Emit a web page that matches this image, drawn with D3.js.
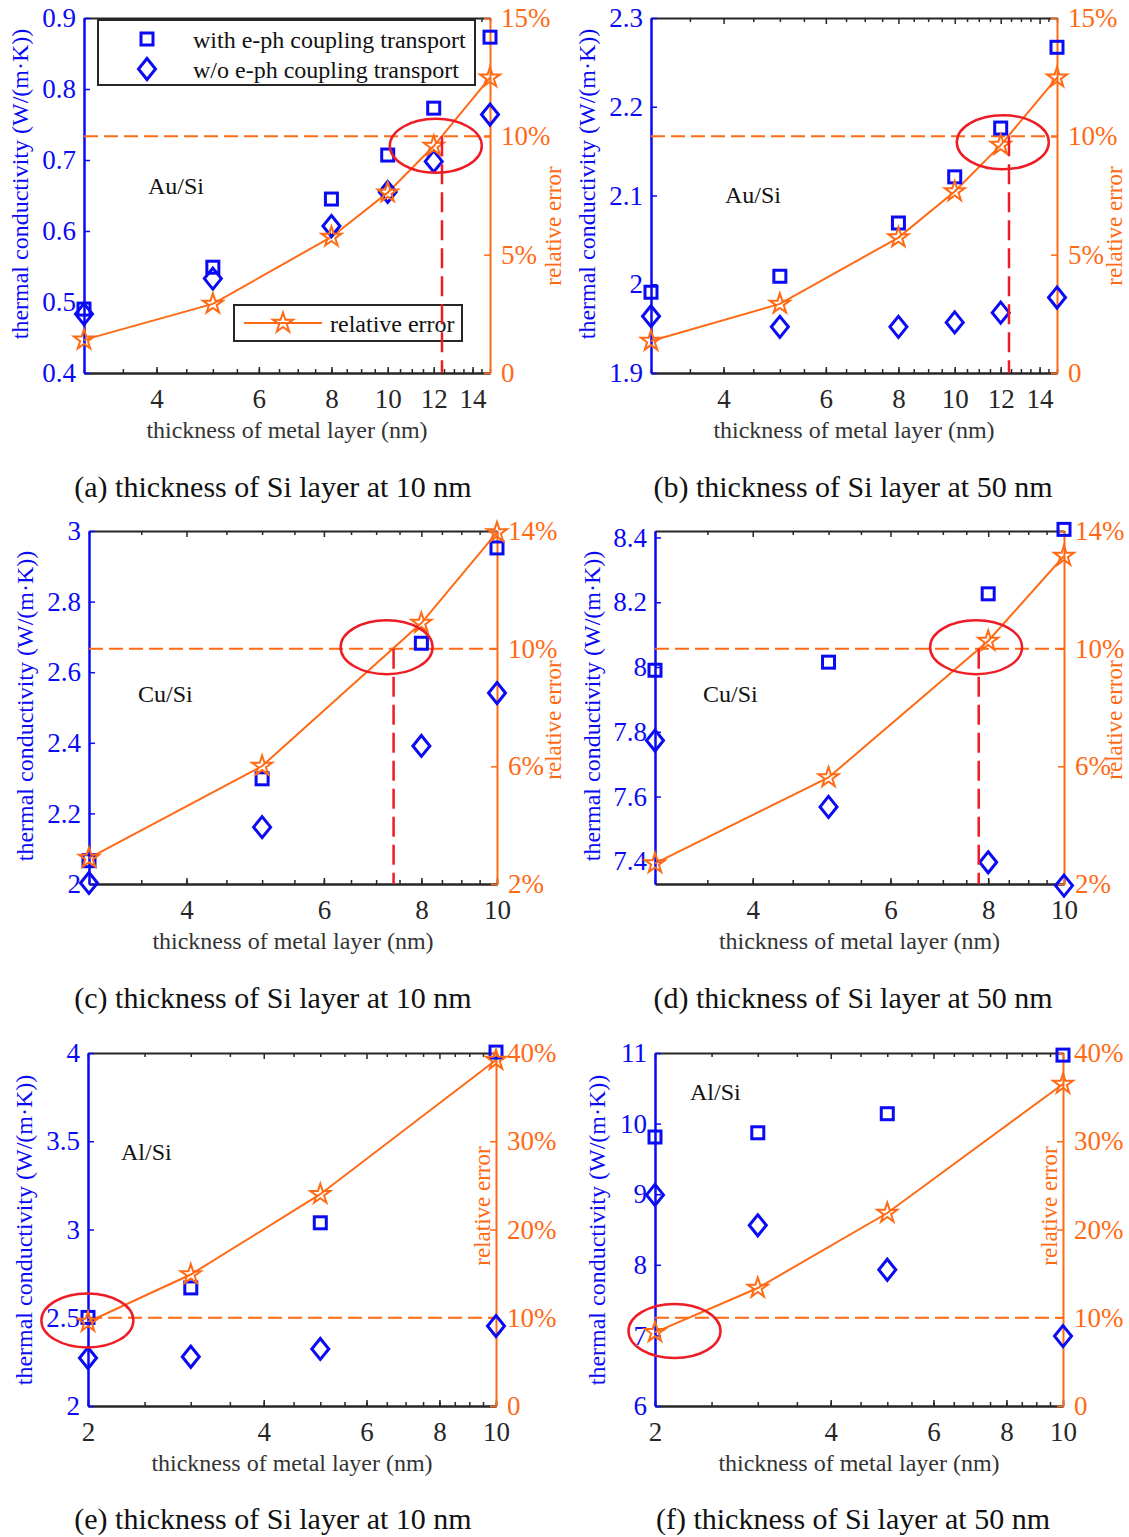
<!DOCTYPE html>
<html>
<head>
<meta charset="utf-8">
<script src="https://cdn.jsdelivr.net/npm/d3@7"></script>
<style>
  body { margin: 0; background: #fff; }
  svg { display: block; font-family: "Liberation Serif", "Times New Roman", serif; }
</style>
</head>
<body>
<svg id="chart" width="1129" height="1537"></svg>
<script>
/* thickness of metal layer (nm) */
const thickAu = [3, 5, 8, 10, 12, 15];
const thickCu = [3, 5, 8, 10];
const thickAl = [2, 3, 5, 10];

/* thermal conductivity W/(m·K): with / without e-ph coupling transport, relative error (%) */
const kWithA    = [0.490, 0.549, 0.645, 0.707, 0.773, 0.873];
const kWithoutA = [0.483, 0.533, 0.607, 0.655, 0.698, 0.764];
const errA      = [1.40, 2.92, 5.75, 7.62, 9.59, 12.48];

const kWithB    = [1.991, 2.009, 2.069, 2.121, 2.176, 2.267];
const kWithoutB = [1.964, 1.952, 1.952, 1.957, 1.968, 1.985];
const errB      = [1.35, 2.92, 5.72, 7.67, 9.63, 12.48];

const kWithC    = [2.066, 2.298, 2.682, 2.952];
const kWithoutC = [2.003, 2.161, 2.391, 2.541];
const errC      = [2.88, 6.01, 10.87, 13.95];

const kWithD    = [7.990, 8.015, 8.226, 8.425];
const kWithoutD = [7.773, 7.568, 7.397, 7.325];
const errD      = [2.70, 5.62, 10.26, 13.15];

const kWithE    = [2.502, 2.669, 3.038, 4.005];
const kWithoutE = [2.272, 2.279, 2.323, 2.453];
const errE      = [9.52, 14.9, 24.0, 39.2];

const kWithF    = [9.81, 9.87, 10.14, 10.97];
const kWithoutF = [8.99, 8.56, 7.93, 6.99];
const errF      = [8.35, 13.37, 21.87, 36.49];

/* tick values */
const xTicksAu = [4, 6, 8, 10, 12, 14];
const xTicksCu = [4, 6, 8, 10];
const xTicksAl = [2, 4, 6, 8, 10];
const yTicksA = [0.4, 0.5, 0.6, 0.7, 0.8, 0.9];
const yTicksB = [1.9, 2.0, 2.1, 2.2, 2.3];
const yTicksC = [2.0, 2.2, 2.4, 2.6, 2.8, 3.0];
const yTicksD = [7.4, 7.6, 7.8, 8.0, 8.2, 8.4];
const yTicksE = [2.0, 2.5, 3.0, 3.5, 4.0];
const yTicksF = [6, 7, 8, 9, 10, 11];
const errTicksAu = [0, 5, 10, 15];
const errTicksCu = [2, 6, 10, 14];
const errTicksAl = [0, 10, 20, 30, 40];

const captions = [
  "(a) thickness of Si layer at 10 nm",
  "(b) thickness of Si layer at 50 nm",
  "(c) thickness of Si layer at 10 nm",
  "(d) thickness of Si layer at 50 nm",
  "(e) thickness of Si layer at 10 nm",
  "(f) thickness of Si layer at 50 nm"
];
const systems = ["Au/Si", "Au/Si", "Cu/Si", "Cu/Si", "Al/Si", "Al/Si"];

/* annotations: circled point (thickness, error %) and 10 % crossing thickness */
const circleAt = [[12.1, 9.6], [12.1, 9.75], [7.22, 10.05], [7.72, 10.05], [1.995, 9.7], [2.16, 8.5]];
const crossAt  = [12.4, 12.4, 7.37, 7.78, null, null];
const threshold = 10;

const BLUE = "#0a0af5", ORANGE = "#ff6a14", RED = "#ee1c25", INK = "#262626";

/* panel layout */
const panels = [
  { box: { l: 84,  t: 18,   r: 490,  b: 373 },  xs: thickAu, kw: kWithA, ko: kWithoutA, err: errA,
    xDomain: [3, 15], xTicks: xTicksAu, yDomain: [0.4, 0.9], yTicks: yTicksA, errDomain: [0, 15], errTicks: errTicksAu,
    sys: [148, 194], yl: [20, 184], el: [553, 226], cap: [273, 497], legend: true },
  { box: { l: 651, t: 18,   r: 1057, b: 373 },  xs: thickAu, kw: kWithB, ko: kWithoutB, err: errB,
    xDomain: [3, 15], xTicks: xTicksAu, yDomain: [1.9, 2.3], yTicks: yTicksB, errDomain: [0, 15], errTicks: errTicksAu,
    sys: [725, 203], yl: [587, 184], el: [1114, 226], cap: [853, 497] },
  { box: { l: 89,  t: 531,  r: 497,  b: 884 },  xs: thickCu, kw: kWithC, ko: kWithoutC, err: errC,
    xDomain: [3, 10], xTicks: xTicksCu, yDomain: [2.0, 3.0], yTicks: yTicksC, errDomain: [2, 14], errTicks: errTicksCu,
    sys: [138, 702], yl: [25, 706], el: [553, 720], cap: [273, 1008] },
  { box: { l: 655, t: 531,  r: 1064, b: 884 },  xs: thickCu, kw: kWithD, ko: kWithoutD, err: errD,
    xDomain: [3, 10], xTicks: xTicksCu, yDomain: [7.33, 8.42], yTicks: yTicksD, errDomain: [2, 14], errTicks: errTicksCu,
    sys: [703, 702], yl: [592, 706], el: [1114, 720], cap: [853, 1008] },
  { box: { l: 88,  t: 1053, r: 496,  b: 1406 }, xs: thickAl, kw: kWithE, ko: kWithoutE, err: errE,
    xDomain: [2, 10], xTicks: xTicksAl, yDomain: [2.0, 4.0], yTicks: yTicksE, errDomain: [0, 40], errTicks: errTicksAl,
    sys: [121, 1160], yl: [24, 1230], el: [482, 1206], cap: [273, 1529] },
  { box: { l: 655, t: 1053, r: 1063, b: 1406 }, xs: thickAl, kw: kWithF, ko: kWithoutF, err: errF,
    xDomain: [2, 10], xTicks: xTicksAl, yDomain: [6, 11], yTicks: yTicksF, errDomain: [0, 40], errTicks: errTicksAl,
    sys: [690, 1100], yl: [597, 1230], el: [1049, 1206], cap: [853, 1529] }
];

const svg = d3.select("#chart");
const star = d3.symbol(d3.symbolStar, 125);

function square(g, cx, cy) {
  g.append("rect").attr("x", cx - 6).attr("y", cy - 6).attr("width", 12).attr("height", 12)
    .attr("fill", "none").attr("stroke", BLUE).attr("stroke-width", 3);
}
function diamond(g, cx, cy) {
  g.append("path").attr("d", `M${cx},${cy - 10.5}L${cx + 8.5},${cy}L${cx},${cy + 10.5}L${cx - 8.5},${cy}Z`)
    .attr("fill", "none").attr("stroke", BLUE).attr("stroke-width", 3);
}
function pentagram(g, cx, cy) {
  g.append("path").attr("d", star).attr("transform", `translate(${cx},${cy})`)
    .attr("fill", "none").attr("stroke", ORANGE).attr("stroke-width", 2);
}

function styleAxis(a, color, size) {
  a.attr("font-family", null).attr("font-size", null);
  a.select(".domain").attr("stroke", color).attr("stroke-width", 2);
  a.selectAll(".tick line").attr("stroke", color).attr("stroke-width", 1.5);
  a.selectAll(".tick text").attr("fill", color).style("font-size", size + "px");
}

function drawPanel(p, i) {
  const b = p.box;
  const g = svg.append("g");
  const x = d3.scaleLog().domain(p.xDomain).range([b.l, b.r]);
  const y = d3.scaleLinear().domain(p.yDomain).range([b.b, b.t]);
  const ye = d3.scaleLinear().domain(p.errDomain).range([b.b, b.t]);
  const minor = d3.range(p.xDomain[0], p.xDomain[1] + 0.01, 0.5);
  const fmtY = d => String(+d.toFixed(2));
  const fmtE = d => d === 0 ? "0" : d + "%";

  /* top and bottom (log) axes, ticks pointing inward */
  const bot = g.append("g").attr("transform", `translate(0,${b.b})`)
    .call(d3.axisBottom(x).tickValues(p.xTicks).tickFormat(d3.format("d")).tickSizeInner(-6).tickSizeOuter(0).tickPadding(16));
  styleAxis(bot, INK, 27);
  const botMinor = g.append("g").attr("transform", `translate(0,${b.b})`)
    .call(d3.axisBottom(x).tickValues(minor).tickFormat("").tickSizeInner(-4).tickSizeOuter(0));
  styleAxis(botMinor, INK, 27);
  const top = g.append("g").attr("transform", `translate(0,${b.t})`)
    .call(d3.axisTop(x).tickValues(minor).tickFormat("").tickSizeInner(-4).tickSizeOuter(0));
  styleAxis(top, INK, 27);
  top.selectAll(".tick").filter(d => p.xTicks.includes(d)).select("line").attr("y2", 6);

  /* left (conductivity) and right (relative error) axes */
  const left = g.append("g").attr("transform", `translate(${b.l},0)`)
    .call(d3.axisLeft(y).tickValues(p.yTicks).tickFormat(fmtY).tickSizeInner(-6).tickSizeOuter(0).tickPadding(8));
  styleAxis(left, BLUE, 27);
  left.select(".domain").attr("stroke-width", 2.5);
  const right = g.append("g").attr("transform", `translate(${b.r},0)`)
    .call(d3.axisRight(ye).tickValues(p.errTicks).tickFormat(fmtE).tickSizeInner(-6).tickSizeOuter(0).tickPadding(11));
  styleAxis(right, ORANGE, 27);

  /* 10 % threshold */
  g.append("line").attr("x1", b.l).attr("x2", b.r).attr("y1", ye(threshold)).attr("y2", ye(threshold))
    .attr("stroke", ORANGE).attr("stroke-width", 2).attr("stroke-dasharray", "14,6");

  /* relative error line */
  const pts = p.xs.map((t, j) => [t, p.err[j]]);
  g.append("path").datum(pts)
    .attr("d", d3.line().x(d => x(d[0])).y(d => ye(d[1])))
    .attr("fill", "none").attr("stroke", ORANGE).attr("stroke-width", 2);

  p.xs.forEach((t, j) => {
    square(g, x(t), y(p.kw[j]));
    diamond(g, x(t), y(p.ko[j]));
  });
  pts.forEach(d => pentagram(g, x(d[0]), ye(d[1])));

  /* text */
  g.append("text").attr("x", p.sys[0]).attr("y", p.sys[1]).attr("fill", "#111").style("font-size", "24px").text(systems[i]);
  g.append("text").attr("transform", `translate(${p.yl[0]},${p.yl[1]}) rotate(-90)`)
    .attr("text-anchor", "middle").attr("dominant-baseline", "central")
    .attr("fill", BLUE).style("font-size", "24px").text("thermal conductivity (W/(m·K))");
  g.append("text").attr("transform", `translate(${p.el[0]},${p.el[1]}) rotate(-90)`)
    .attr("text-anchor", "middle").attr("dominant-baseline", "central")
    .attr("fill", ORANGE).style("font-size", "23px").text("relative error");
  g.append("text").attr("x", (b.l + b.r) / 2).attr("y", b.b + 65).attr("text-anchor", "middle")
    .attr("fill", "#333").style("font-size", "24px").text("thickness of metal layer (nm)");
  g.append("text").attr("x", p.cap[0]).attr("y", p.cap[1]).attr("text-anchor", "middle")
    .attr("fill", "#111").style("font-size", "30px").text(captions[i]);

  /* legends */
  if (p.legend) {
    const lg = g.append("g");
    lg.append("rect").attr("x", 98).attr("y", 20).attr("width", 377).attr("height", 65)
      .attr("fill", "#fff").attr("stroke", INK).attr("stroke-width", 2);
    square(lg, 147, 39);
    diamond(lg, 147, 69);
    lg.append("text").attr("x", 193).attr("y", 48).attr("fill", "#111").style("font-size", "24px").text("with e-ph coupling transport");
    lg.append("text").attr("x", 193).attr("y", 78).attr("fill", "#111").style("font-size", "24px").text("w/o e-ph coupling transport");

    lg.append("rect").attr("x", 234).attr("y", 305).attr("width", 228).attr("height", 36)
      .attr("fill", "#fff").attr("stroke", INK).attr("stroke-width", 2);
    lg.append("line").attr("x1", 244).attr("x2", 322).attr("y1", 323).attr("y2", 323)
      .attr("stroke", ORANGE).attr("stroke-width", 2);
    pentagram(lg, 283, 323);
    lg.append("text").attr("x", 330).attr("y", 332).attr("fill", "#111").style("font-size", "24px").text("relative error");
  }

  /* annotations */
  if (crossAt[i] !== null) {
    g.append("line").attr("x1", x(crossAt[i])).attr("x2", x(crossAt[i]))
      .attr("y1", ye(threshold)).attr("y2", b.b)
      .attr("stroke", RED).attr("stroke-width", 2.5).attr("stroke-dasharray", "20,8");
  }
  const c = circleAt[i];
  g.append("ellipse").attr("cx", x(c[0])).attr("cy", ye(c[1])).attr("rx", 46).attr("ry", 27)
    .attr("fill", "none").attr("stroke", RED).attr("stroke-width", 2.5);
}

panels.forEach(drawPanel);
</script>
</body>
</html>
